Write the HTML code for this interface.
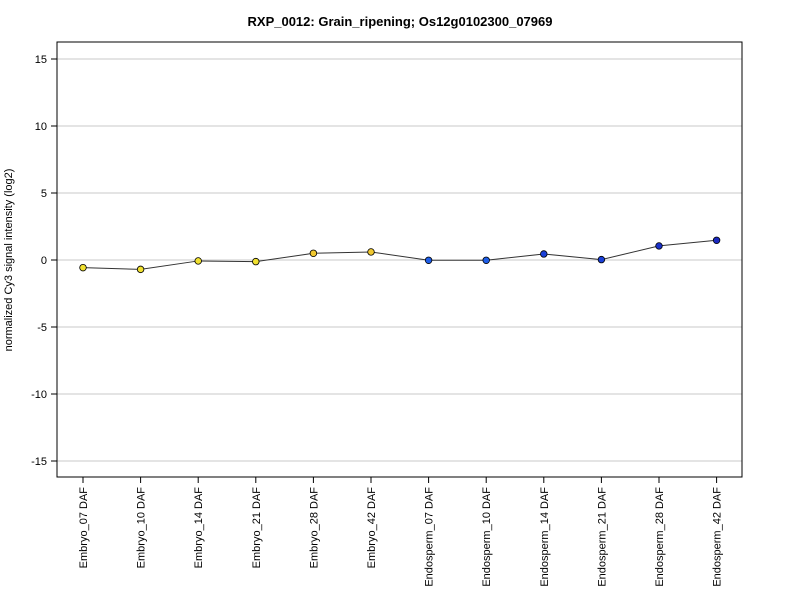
<!DOCTYPE html>
<html><head><meta charset="utf-8"><style>body{margin:0;background:#fff}svg{display:block;font-family:"Liberation Sans",Arial,sans-serif}</style></head>
<body>
<svg id="chart" width="800" height="600" viewBox="0 0 800 600" xmlns="http://www.w3.org/2000/svg">
<text x="400" y="26" text-anchor="middle" font-size="13" font-weight="bold">RXP_0012: Grain_ripening; Os12g0102300_07969</text>
<text transform="translate(12,260) rotate(-90)" text-anchor="middle" font-size="11">normalized Cy3 signal intensity (log2)</text>
<g id="grid"></g><g id="axes"></g><g id="series"></g>
<rect x="57" y="42" width="685" height="435" fill="none" stroke="#000" stroke-width="1"/>
</svg>
<script>
const categories=["Embryo_07 DAF","Embryo_10 DAF","Embryo_14 DAF","Embryo_21 DAF","Embryo_28 DAF","Embryo_42 DAF","Endosperm_07 DAF","Endosperm_10 DAF","Endosperm_14 DAF","Endosperm_21 DAF","Endosperm_28 DAF","Endosperm_42 DAF"];
const values=[-0.57,-0.7,-0.07,-0.12,0.5,0.6,-0.02,-0.02,0.45,0.03,1.05,1.47];
const errors=[0.2,0.2,0.15,0.12,0.1,0.12,0.08,0.08,0.25,0.08,0.1,0.1];
const colors=["#f0e030","#f0e030","#f0e030","#f0e030","#f0c830","#f0c830","#1e5ee8","#1e5ee8","#1a40d8","#1a40d8","#1a30c8","#1a28c0"];
const yTicks=[-15,-10,-5,0,5,10,15];
const NS="http://www.w3.org/2000/svg";
function y(v){return 260-v*13.4;}
function x(i){return 83+i*57.6;}
function mk(t,a,p){const e=document.createElementNS(NS,t);for(const k in a)e.setAttribute(k,a[k]);p.appendChild(e);return e;}
const grid=document.getElementById('grid'),axes=document.getElementById('axes'),ser=document.getElementById('series');
yTicks.forEach(t=>{
 const g=mk('line',{x1:57,x2:742,y1:y(t),y2:y(t),stroke:'#c8c8c8','stroke-width':1},grid);
 
 const tk=mk('line',{x1:51,x2:57,y1:y(t),y2:y(t),stroke:'#000'},axes);
 
 const l=mk('text',{x:47,y:y(t)+4,'text-anchor':'end','font-size':11},axes);l.textContent=t;
 
});
categories.forEach((c,i)=>{
 const tk=mk('line',{x1:x(i),x2:x(i),y1:477,y2:483,stroke:'#000'},axes);
 
 const l=mk('text',{transform:`translate(${x(i)+4},487) rotate(-90)`,'text-anchor':'end','font-size':11},axes);l.textContent=c;
 
});
const line=mk('polyline',{points:values.map((v,i)=>x(i)+','+y(v)).join(' '),fill:'none',stroke:'#333','stroke-width':1},ser);

values.forEach((v,i)=>{
 const eb=mk('line',{x1:x(i),x2:x(i),y1:y(v-errors[i]),y2:y(v+errors[i]),stroke:'#000'},ser);
 
 const p=mk('circle',{cx:x(i),cy:y(v),r:3.3,fill:colors[i],stroke:'#000','stroke-width':0.8},ser);
 
});
</script>
</body></html>
